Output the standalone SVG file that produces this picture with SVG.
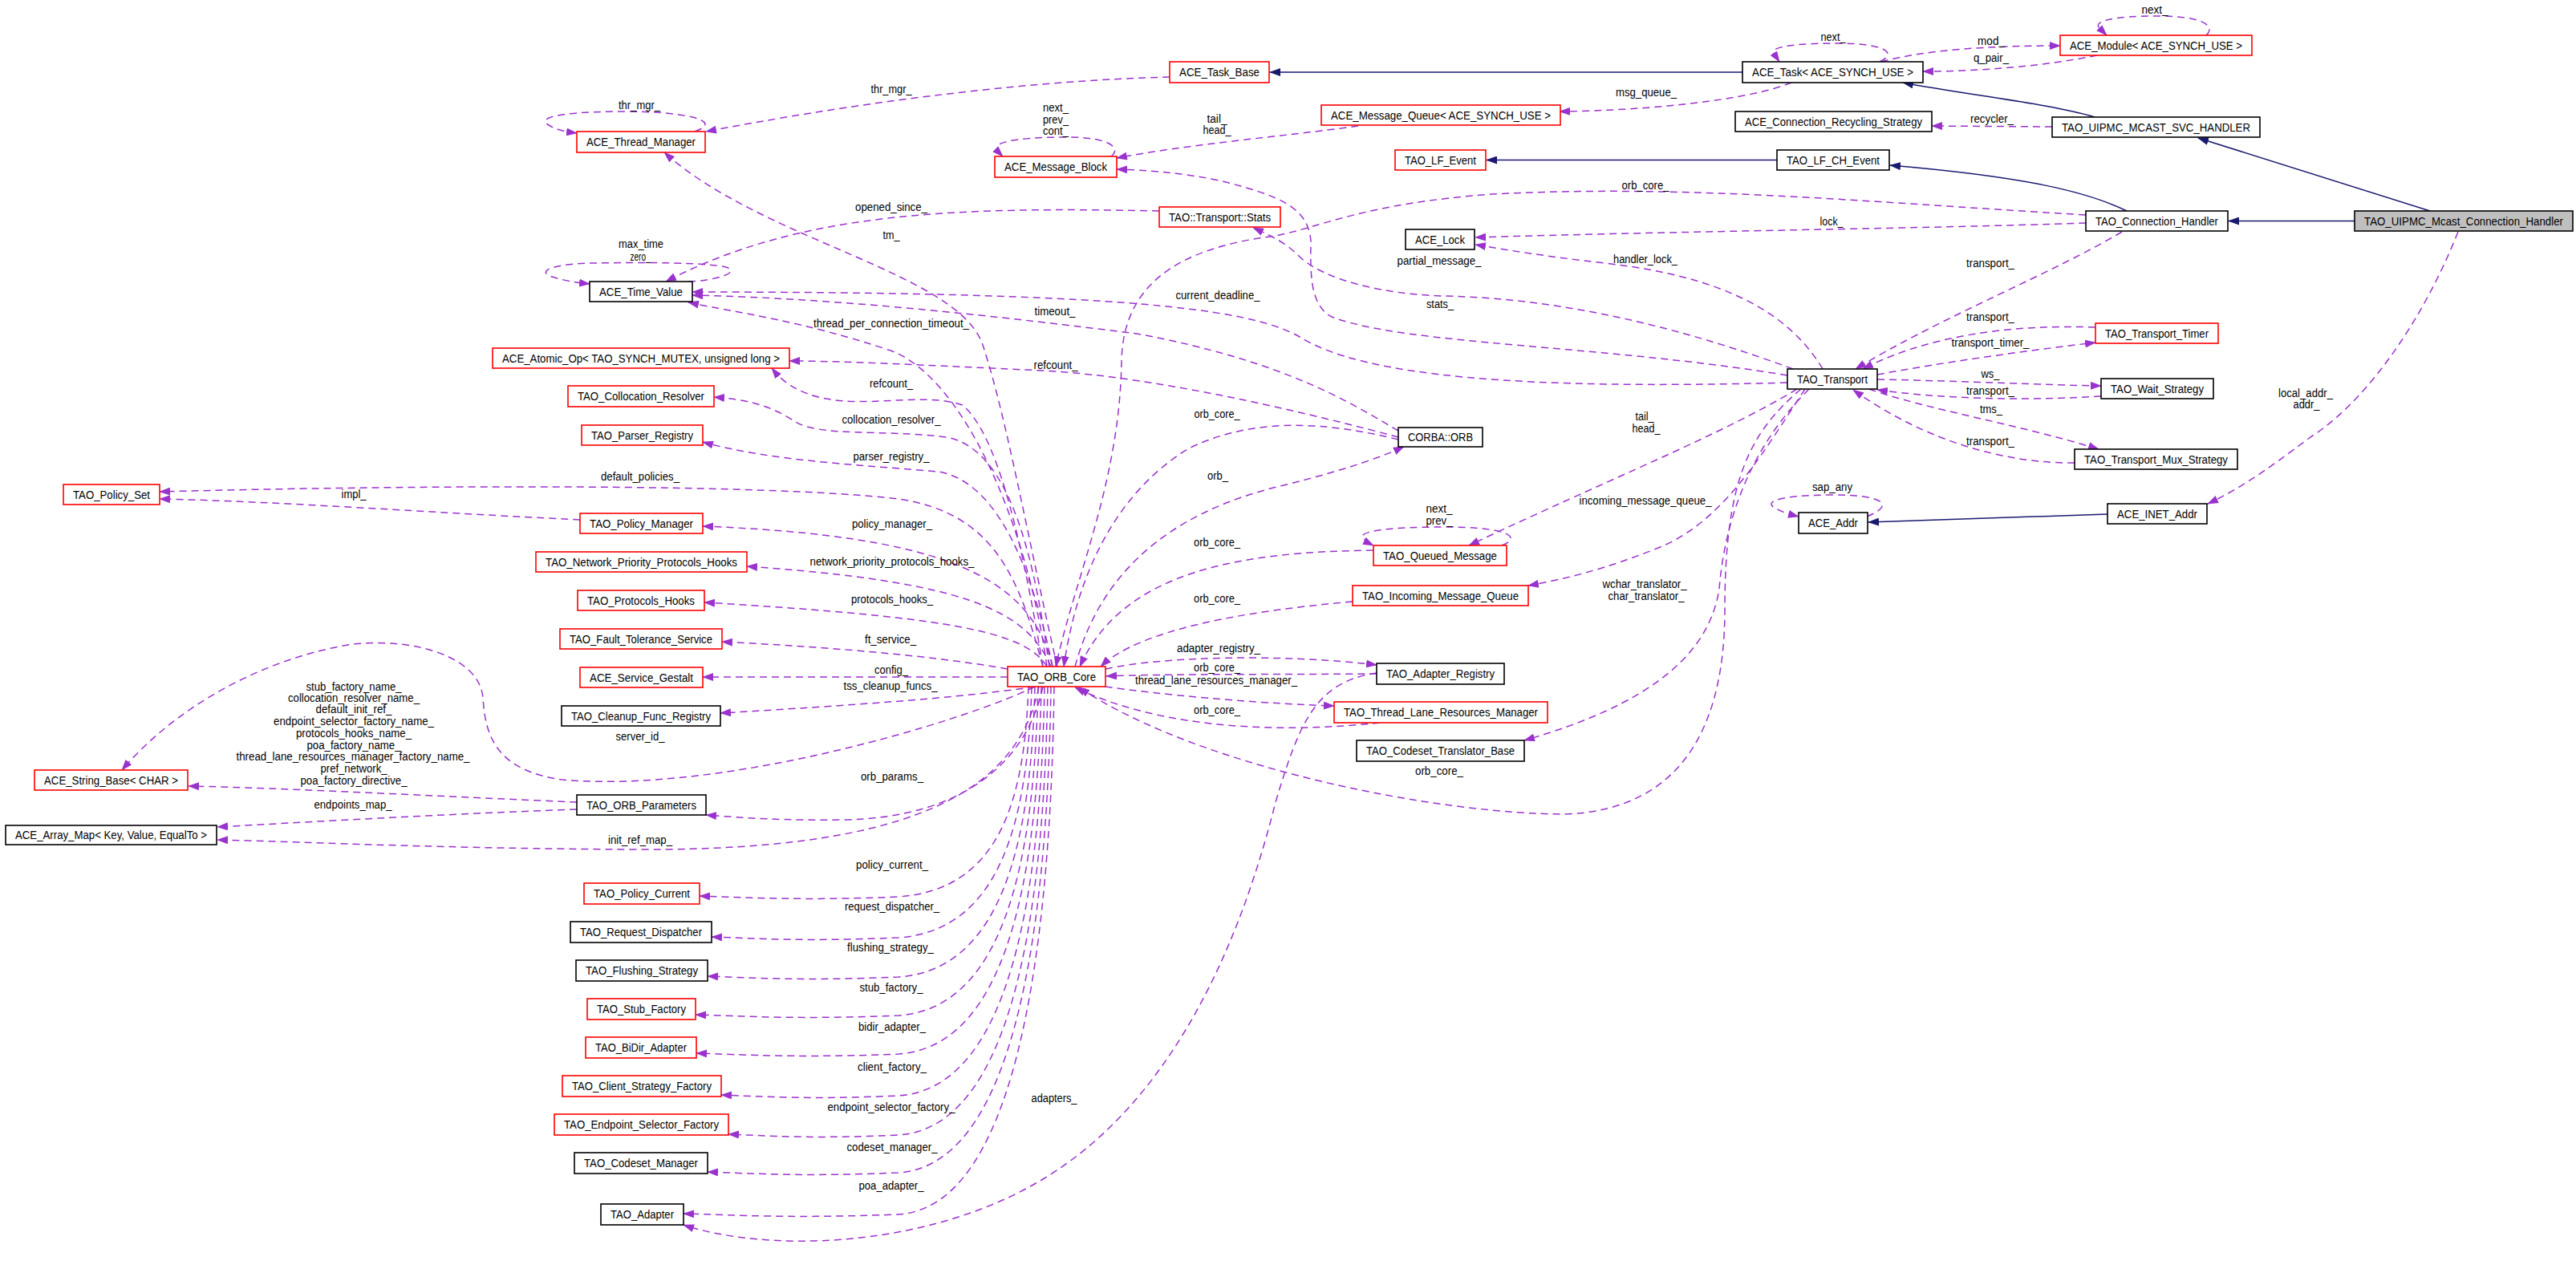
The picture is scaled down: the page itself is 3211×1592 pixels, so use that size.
<svg xmlns="http://www.w3.org/2000/svg" width="3211" height="1592" viewBox="0 0 3211 1592">
<style>
.n rect{fill:#fff;stroke:#000;stroke-width:1.6}
.n.r rect{stroke:#ff0000}
.n.g rect{fill:#bfbfbf}
text{font-family:"Liberation Sans",Arial,sans-serif;font-size:14px;fill:#000;text-anchor:middle}
.e{fill:none;stroke:#9a32cd;stroke-width:1.5;stroke-dasharray:9,6;marker-end:url(#ap)}
.i{fill:none;stroke:#191970;stroke-width:1.5;marker-end:url(#an)}
</style>
<defs>
<marker id="ap" viewBox="0 0 14 10" refX="13" refY="5" markerWidth="14" markerHeight="10" markerUnits="userSpaceOnUse" orient="auto"><path d="M0,0L14,5L0,10z" fill="#9a32cd"/></marker>
<marker id="an" viewBox="0 0 14 10" refX="13" refY="5" markerWidth="14" markerHeight="10" markerUnits="userSpaceOnUse" orient="auto"><path d="M0,0L14,5L0,10z" fill="#191970"/></marker>
</defs>
<rect width="3211" height="1592" fill="#fff"/>
<g id="connectors">
<path class="i" d="M2172,90 L1583,90"/>
<path class="i" d="M2215,199.5 L1853,199.5"/>
<path class="i" d="M2611,146 C2560,130 2450,118 2372,103"/>
<path class="i" d="M2651,263 C2600,238 2520,220 2356,206"/>
<path class="i" d="M3029,263 L2740,172"/>
<path class="i" d="M2935,275.5 L2778,275.5"/>
<path class="i" d="M2627,641 C2520,644 2420,648 2329,651"/>

<path class="e" d="M866,164 C905,150 850,139 780,139 C700,139 668,146 684,156 C692,161 702,164 719,166"/>
<path class="e" d="M858,351 C890,350 925,340 905,333 C880,327 800,327 740,328 C688,329 668,338 688,345 C700,349 716,352 735,354"/>
<path class="e" d="M1385,195 C1398,185 1385,171 1330,171 C1268,171 1238,177 1243,186 C1245,190 1247,192 1250,195"/>
<path class="e" d="M2343,77 C2366,66 2350,54 2290,54 C2225,54 2203,60 2212,69 C2214,72 2216,74 2218,77"/>
<path class="e" d="M2750,44 C2763,32 2745,20 2690,20 C2635,20 2608,26 2617,35 C2620,38 2623,41 2626,44"/>
<path class="e" d="M1872,680 C1896,671 1885,657 1800,657 C1718,657 1690,664 1700,672 C1704,675 1708,678 1712,680"/>
<path class="e" d="M2327,644 C2362,630 2350,617 2285,617 C2220,617 2198,625 2212,633 C2220,638 2230,641 2242,644"/>

<path class="e" d="M1458,96 C1300,100 1100,122 880,164"/>
<path class="e" d="M1318,831 C1285,690 1255,520 1225,430 C1195,340 950,300 828,190"/>
<path class="e" d="M1445,263 C1200,258 1000,262 830,351"/>
<path class="e" d="M2228,477 C1900,486 1700,470 1620,420 C1560,385 1400,364 863,364"/>
<path class="e" d="M1743,537 C1680,500 1600,450 1417,416 C1250,395 1050,372 863,368"/>
<path class="e" d="M1305,831 C1280,650 1200,470 1110,437 C1000,400 920,390 858,377"/>
<path class="e" d="M1743,545 C1650,520 1450,470 1300,462 C1150,455 1050,450 984,450"/>
<path class="e" d="M1300,831 C1270,650 1240,540 1200,505 C1150,488 1080,510 1020,495 C990,487 975,475 962,459"/>
<path class="e" d="M1308,831 C1290,700 1260,560 1180,545 C1100,535 1020,545 990,525 C960,505 930,498 890,495"/>
<path class="e" d="M1312,831 C1285,700 1240,600 1170,588 C1080,580 960,575 876,551"/>
<path class="e" d="M1300,831 C1270,720 1240,640 1120,622 C950,602 500,605 199,613"/>
<path class="e" d="M723,648 C550,640 350,625 199,622"/>
<path class="e" d="M1312,831 C1285,720 1180,668 876,656"/>
<path class="e" d="M1310,831 C1280,760 1200,725 931,706"/>
<path class="e" d="M1305,831 C1280,790 1200,770 878,751"/>
<path class="e" d="M1256,834 C1150,815 1000,805 900,800"/>
<path class="e" d="M1256,844 L876,844"/>
<path class="e" d="M1290,856 C1200,870 1050,880 898,889"/>
<path class="e" d="M1290,856 C1200,900 900,990 700,972 C620,960 605,920 602,870 C598,820 520,795 440,803 C330,820 220,880 152,960"/>
<path class="e" d="M719,1000 C550,993 350,982 235,980"/>
<path class="e" d="M719,1009 C550,1015 380,1025 271,1031"/>
<path class="e" d="M1295,856 C1270,980 1150,1060 800,1059 C550,1058 400,1050 271,1047"/>
<path class="e" d="M1300,856 C1280,950 1200,1020 1050,1022 C980,1023 930,1020 880,1016"/>
<path class="e" d="M1282,856 C1277,1000 1245,1109 1120,1118 C1000,1123 940,1119 872,1117"/>
<path class="e" d="M1286,856 C1281,1028 1245,1160 1120,1169 C1000,1174 950,1170 887,1168"/>
<path class="e" d="M1290,856 C1285,1055 1247,1209 1120,1218 C1000,1223 940,1219 882,1217"/>
<path class="e" d="M1294,856 C1289,1081 1249,1257 1120,1266 C1000,1271 930,1267 867,1265"/>
<path class="e" d="M1298,856 C1293,1107 1251,1305 1120,1314 C1000,1319 930,1315 868,1313"/>
<path class="e" d="M1302,856 C1297,1136 1253,1357 1120,1366 C1010,1371 950,1367 899,1365"/>
<path class="e" d="M1306,856 C1301,1163 1255,1406 1120,1415 C1010,1420 960,1416 908,1414"/>
<path class="e" d="M1310,856 C1305,1189 1257,1453 1120,1462 C1000,1467 940,1463 882,1461"/>
<path class="e" d="M1314,856 C1309,1217 1259,1505 1120,1514 C990,1519 920,1515 852,1513"/>
<path class="e" d="M1716,839 C1640,850 1620,900 1590,1000 C1540,1200 1450,1380 1300,1470 C1150,1560 950,1560 852,1527"/>
<path class="e" d="M1340,831 C1370,720 1450,640 1600,605 C1660,590 1710,575 1750,557"/>
<path class="e" d="M1743,548 C1650,525 1560,520 1480,560 C1400,610 1345,700 1326,831"/>
<path class="e" d="M2600,268 C2300,250 2100,230 1860,242 C1700,254 1650,282 1590,294 C1460,310 1400,360 1398,450 C1396,600 1340,720 1316,831"/>
<path class="e" d="M1712,686 C1550,688 1400,710 1346,831"/>
<path class="e" d="M1686,750 C1550,762 1420,785 1372,831"/>
<path class="e" d="M1378,834 C1450,818 1600,815 1716,829"/>
<path class="e" d="M1716,840 C1600,841 1450,840 1379,843"/>
<path class="e" d="M1378,856 C1450,866 1550,876 1663,880"/>
<path class="e" d="M1720,901 C1600,914 1450,910 1340,857"/>
<path class="e" d="M2245,485 C2180,540 2150,600 2150,760 C2150,900 2100,1010 1950,1015 C1800,1015 1500,960 1345,857"/>
<path class="e" d="M2240,485 C2150,540 2000,600 1831,680"/>
<path class="e" d="M2250,485 C2200,560 2150,650 2067,683 C2000,710 1950,722 1905,730"/>
<path class="e" d="M2255,485 C2180,560 2150,650 2143,734 C2130,820 2050,880 1900,923"/>
<path class="e" d="M2235,460 C2100,410 1950,372 1800,369 C1700,366 1640,340 1620,320 C1600,300 1580,292 1562,284"/>
<path class="e" d="M2228,468 C2000,430 1750,430 1660,395 C1630,380 1634,330 1634,300 C1630,260 1600,245 1520,225 C1470,215 1430,212 1392,211"/>
<path class="e" d="M2272,460 C2230,390 2150,345 2000,328 C1930,320 1880,312 1839,305"/>
<path class="e" d="M2600,278 C2400,285 2100,288 1839,296"/>
<path class="e" d="M2645,289 C2560,340 2420,395 2313,460"/>
<path class="e" d="M2612,408 C2500,404 2400,420 2322,460"/>
<path class="e" d="M2340,467 C2420,452 2520,438 2612,427"/>
<path class="e" d="M2340,473 C2450,475 2550,480 2619,481"/>
<path class="e" d="M2619,494 C2520,500 2420,497 2340,486"/>
<path class="e" d="M2330,485 C2400,510 2520,530 2616,560"/>
<path class="e" d="M2586,577 C2500,578 2400,550 2310,486"/>
<path class="e" d="M2614,69 C2550,82 2470,89 2397,89"/>
<path class="e" d="M2345,77 C2400,62 2480,57 2568,57"/>
<path class="e" d="M2233,103 C2180,125 2050,138 1944,139"/>
<path class="e" d="M1693,157 C1600,170 1480,180 1392,197"/>
<path class="e" d="M2558,158 L2408,157"/>
<path class="e" d="M3064,289 C3020,400 2950,500 2880,545 C2820,590 2790,610 2752,628"/>

<text x="797" y="136" textLength="52" lengthAdjust="spacingAndGlyphs">thr_mgr_</text>
<text x="1111" y="116" textLength="51" lengthAdjust="spacingAndGlyphs">thr_mgr_</text>
<text x="799" y="309" textLength="56" lengthAdjust="spacingAndGlyphs">max_time</text>
<text x="798" y="324.5" textLength="25" lengthAdjust="spacingAndGlyphs">zero_</text>
<text x="1316" y="139" textLength="32" lengthAdjust="spacingAndGlyphs">next_</text>
<text x="1316" y="153.5" textLength="32" lengthAdjust="spacingAndGlyphs">prev_</text>
<text x="1316" y="168" textLength="32" lengthAdjust="spacingAndGlyphs">cont_</text>
<text x="1517" y="152.5" textLength="25" lengthAdjust="spacingAndGlyphs">tail_</text>
<text x="1517" y="167" textLength="35" lengthAdjust="spacingAndGlyphs">head_</text>
<text x="1111" y="263" textLength="90" lengthAdjust="spacingAndGlyphs">opened_since_</text>
<text x="1111" y="297.5" textLength="21" lengthAdjust="spacingAndGlyphs">tm_</text>
<text x="1518" y="373" textLength="105" lengthAdjust="spacingAndGlyphs">current_deadline_</text>
<text x="1315" y="393" textLength="51" lengthAdjust="spacingAndGlyphs">timeout_</text>
<text x="1111" y="408" textLength="194" lengthAdjust="spacingAndGlyphs">thread_per_connection_timeout_</text>
<text x="1316" y="460" textLength="55" lengthAdjust="spacingAndGlyphs">refcount_</text>
<text x="1111" y="483" textLength="54" lengthAdjust="spacingAndGlyphs">refcount_</text>
<text x="1111" y="528" textLength="123" lengthAdjust="spacingAndGlyphs">collocation_resolver_</text>
<text x="1517" y="521" textLength="57" lengthAdjust="spacingAndGlyphs">orb_core_</text>
<text x="2052" y="120" textLength="76" lengthAdjust="spacingAndGlyphs">msg_queue_</text>
<text x="2285" y="51" textLength="31" lengthAdjust="spacingAndGlyphs">next_</text>
<text x="2051" y="235.5" textLength="59" lengthAdjust="spacingAndGlyphs">orb_core_</text>
<text x="2283" y="281" textLength="29" lengthAdjust="spacingAndGlyphs">lock_</text>
<text x="2051" y="328" textLength="80" lengthAdjust="spacingAndGlyphs">handler_lock_</text>
<text x="1794" y="329.5" textLength="105" lengthAdjust="spacingAndGlyphs">partial_message_</text>
<text x="1795" y="384" textLength="34" lengthAdjust="spacingAndGlyphs">stats_</text>
<text x="2050" y="523.5" textLength="23" lengthAdjust="spacingAndGlyphs">tail_</text>
<text x="2052" y="539" textLength="35" lengthAdjust="spacingAndGlyphs">head_</text>
<text x="2686" y="17" textLength="33" lengthAdjust="spacingAndGlyphs">next_</text>
<text x="2482" y="56" textLength="34" lengthAdjust="spacingAndGlyphs">mod_</text>
<text x="2482" y="77" textLength="44" lengthAdjust="spacingAndGlyphs">q_pair_</text>
<text x="2483" y="153" textLength="54" lengthAdjust="spacingAndGlyphs">recycler_</text>
<text x="2481" y="333" textLength="60" lengthAdjust="spacingAndGlyphs">transport_</text>
<text x="2481" y="400" textLength="60" lengthAdjust="spacingAndGlyphs">transport_</text>
<text x="2481" y="432" textLength="97" lengthAdjust="spacingAndGlyphs">transport_timer_</text>
<text x="2481" y="471" textLength="23" lengthAdjust="spacingAndGlyphs">ws_</text>
<text x="2481" y="492" textLength="60" lengthAdjust="spacingAndGlyphs">transport_</text>
<text x="2482" y="515" textLength="28" lengthAdjust="spacingAndGlyphs">tms_</text>
<text x="2481" y="555" textLength="60" lengthAdjust="spacingAndGlyphs">transport_</text>
<text x="2874" y="494.5" textLength="68" lengthAdjust="spacingAndGlyphs">local_addr_</text>
<text x="2875" y="509" textLength="33" lengthAdjust="spacingAndGlyphs">addr_</text>
<text x="441" y="621" textLength="31" lengthAdjust="spacingAndGlyphs">impl_</text>
<text x="798" y="599" textLength="98" lengthAdjust="spacingAndGlyphs">default_policies_</text>
<text x="798" y="922.5" textLength="61" lengthAdjust="spacingAndGlyphs">server_id_</text>
<text x="441" y="860.5" textLength="119" lengthAdjust="spacingAndGlyphs">stub_factory_name_</text>
<text x="441" y="875" textLength="164" lengthAdjust="spacingAndGlyphs">collocation_resolver_name_</text>
<text x="441" y="889" textLength="95" lengthAdjust="spacingAndGlyphs">default_init_ref_</text>
<text x="441" y="904" textLength="200" lengthAdjust="spacingAndGlyphs">endpoint_selector_factory_name_</text>
<text x="441" y="919" textLength="144" lengthAdjust="spacingAndGlyphs">protocols_hooks_name_</text>
<text x="441" y="933.5" textLength="117" lengthAdjust="spacingAndGlyphs">poa_factory_name_</text>
<text x="440" y="948" textLength="291" lengthAdjust="spacingAndGlyphs">thread_lane_resources_manager_factory_name_</text>
<text x="441" y="963" textLength="83" lengthAdjust="spacingAndGlyphs">pref_network_</text>
<text x="441" y="977.5" textLength="133" lengthAdjust="spacingAndGlyphs">poa_factory_directive_</text>
<text x="440" y="1008" textLength="97" lengthAdjust="spacingAndGlyphs">endpoints_map_</text>
<text x="798" y="1051.5" textLength="80" lengthAdjust="spacingAndGlyphs">init_ref_map_</text>
<text x="1111" y="573.5" textLength="95" lengthAdjust="spacingAndGlyphs">parser_registry_</text>
<text x="1112" y="657.5" textLength="100" lengthAdjust="spacingAndGlyphs">policy_manager_</text>
<text x="1112" y="705" textLength="205" lengthAdjust="spacingAndGlyphs">network_priority_protocols_hooks_</text>
<text x="1112" y="752" textLength="102" lengthAdjust="spacingAndGlyphs">protocols_hooks_</text>
<text x="1110" y="801.5" textLength="64" lengthAdjust="spacingAndGlyphs">ft_service_</text>
<text x="1111" y="839.5" textLength="42" lengthAdjust="spacingAndGlyphs">config_</text>
<text x="1110" y="859.5" textLength="117" lengthAdjust="spacingAndGlyphs">tss_cleanup_funcs_</text>
<text x="1112" y="972.5" textLength="78" lengthAdjust="spacingAndGlyphs">orb_params_</text>
<text x="1518" y="597.5" textLength="26" lengthAdjust="spacingAndGlyphs">orb_</text>
<text x="1517" y="680.5" textLength="58" lengthAdjust="spacingAndGlyphs">orb_core_</text>
<text x="1517" y="751" textLength="58" lengthAdjust="spacingAndGlyphs">orb_core_</text>
<text x="1519" y="813" textLength="104" lengthAdjust="spacingAndGlyphs">adapter_registry_</text>
<text x="1517" y="837" textLength="58" lengthAdjust="spacingAndGlyphs">orb_core_</text>
<text x="1516" y="853" textLength="202" lengthAdjust="spacingAndGlyphs">thread_lane_resources_manager_</text>
<text x="1517" y="889.5" textLength="58" lengthAdjust="spacingAndGlyphs">orb_core_</text>
<text x="1794" y="639" textLength="33" lengthAdjust="spacingAndGlyphs">next_</text>
<text x="1794" y="653.5" textLength="33" lengthAdjust="spacingAndGlyphs">prev_</text>
<text x="2051" y="629" textLength="165" lengthAdjust="spacingAndGlyphs">incoming_message_queue_</text>
<text x="2050" y="733" textLength="105" lengthAdjust="spacingAndGlyphs">wchar_translator_</text>
<text x="2052" y="748" textLength="95" lengthAdjust="spacingAndGlyphs">char_translator_</text>
<text x="2284" y="611.5" textLength="50" lengthAdjust="spacingAndGlyphs">sap_any</text>
<text x="1794" y="965.5" textLength="60" lengthAdjust="spacingAndGlyphs">orb_core_</text>
<text x="1112" y="1082.5" textLength="90" lengthAdjust="spacingAndGlyphs">policy_current_</text>
<text x="1112" y="1135" textLength="118" lengthAdjust="spacingAndGlyphs">request_dispatcher_</text>
<text x="1110" y="1185.5" textLength="108" lengthAdjust="spacingAndGlyphs">flushing_strategy_</text>
<text x="1111" y="1236" textLength="79" lengthAdjust="spacingAndGlyphs">stub_factory_</text>
<text x="1112" y="1285" textLength="84" lengthAdjust="spacingAndGlyphs">bidir_adapter_</text>
<text x="1112" y="1335" textLength="86" lengthAdjust="spacingAndGlyphs">client_factory_</text>
<text x="1111" y="1385" textLength="159" lengthAdjust="spacingAndGlyphs">endpoint_selector_factory_</text>
<text x="1112" y="1435" textLength="113" lengthAdjust="spacingAndGlyphs">codeset_manager_</text>
<text x="1111" y="1483" textLength="81" lengthAdjust="spacingAndGlyphs">poa_adapter_</text>
<text x="1314" y="1373.5" textLength="57" lengthAdjust="spacingAndGlyphs">adapters_</text>
</g>

<g id="ACE_Thread_Manager" class="n r"><rect x="719" y="164" width="160" height="26"/><text x="799" y="182" textLength="136" lengthAdjust="spacingAndGlyphs">ACE_Thread_Manager</text></g>
<g id="ACE_Task_Base" class="n r"><rect x="1458" y="77" width="124" height="26"/><text x="1520" y="95" textLength="100" lengthAdjust="spacingAndGlyphs">ACE_Task_Base</text></g>
<g id="ACE_Task" class="n"><rect x="2172" y="77" width="225" height="26"/><text x="2284.5" y="95" textLength="201" lengthAdjust="spacingAndGlyphs">ACE_Task&lt; ACE_SYNCH_USE &gt;</text></g>
<g id="ACE_Module" class="n r"><rect x="2568" y="44" width="239" height="25"/><text x="2687.5" y="61.5" textLength="215" lengthAdjust="spacingAndGlyphs">ACE_Module&lt; ACE_SYNCH_USE &gt;</text></g>
<g id="ACE_Message_Queue" class="n r"><rect x="1647" y="131" width="298" height="25"/><text x="1796" y="148.5" textLength="274" lengthAdjust="spacingAndGlyphs">ACE_Message_Queue&lt; ACE_SYNCH_USE &gt;</text></g>
<g id="ACE_Message_Block" class="n r"><rect x="1240" y="195" width="152" height="26"/><text x="1316" y="213" textLength="128" lengthAdjust="spacingAndGlyphs">ACE_Message_Block</text></g>
<g id="ACE_Connection_Recycling_Strategy" class="n"><rect x="2163" y="139" width="245" height="25"/><text x="2285.5" y="156.5" textLength="221" lengthAdjust="spacingAndGlyphs">ACE_Connection_Recycling_Strategy</text></g>
<g id="TAO_UIPMC_MCAST_SVC_HANDLER" class="n"><rect x="2558" y="146" width="259" height="25"/><text x="2687.5" y="163.5" textLength="235" lengthAdjust="spacingAndGlyphs">TAO_UIPMC_MCAST_SVC_HANDLER</text></g>
<g id="TAO_LF_Event" class="n r"><rect x="1739" y="187" width="113" height="25"/><text x="1795.5" y="204.5" textLength="89" lengthAdjust="spacingAndGlyphs">TAO_LF_Event</text></g>
<g id="TAO_LF_CH_Event" class="n"><rect x="2215" y="187" width="140" height="25"/><text x="2285" y="204.5" textLength="116" lengthAdjust="spacingAndGlyphs">TAO_LF_CH_Event</text></g>
<g id="TAO_Transport_Stats" class="n r"><rect x="1445" y="258" width="151" height="25"/><text x="1520.5" y="275.5" textLength="127" lengthAdjust="spacingAndGlyphs">TAO::Transport::Stats</text></g>
<g id="TAO_Connection_Handler" class="n"><rect x="2600" y="263" width="177" height="25"/><text x="2688.5" y="280.5" textLength="153" lengthAdjust="spacingAndGlyphs">TAO_Connection_Handler</text></g>
<g id="TAO_UIPMC_Mcast_Connection_Handler" class="n g"><rect x="2935" y="263" width="272" height="25"/><text x="3071" y="280.5" textLength="248" lengthAdjust="spacingAndGlyphs">TAO_UIPMC_Mcast_Connection_Handler</text></g>
<g id="ACE_Lock" class="n"><rect x="1752" y="286" width="86" height="25"/><text x="1795" y="303.5" textLength="62" lengthAdjust="spacingAndGlyphs">ACE_Lock</text></g>
<g id="ACE_Time_Value" class="n"><rect x="735" y="351" width="128" height="25"/><text x="799" y="368.5" textLength="104" lengthAdjust="spacingAndGlyphs">ACE_Time_Value</text></g>
<g id="TAO_Transport_Timer" class="n r"><rect x="2612" y="403" width="153" height="25"/><text x="2688.5" y="420.5" textLength="129" lengthAdjust="spacingAndGlyphs">TAO_Transport_Timer</text></g>
<g id="ACE_Atomic_Op" class="n r"><rect x="614" y="434" width="370" height="25"/><text x="799" y="451.5" textLength="346" lengthAdjust="spacingAndGlyphs">ACE_Atomic_Op&lt; TAO_SYNCH_MUTEX, unsigned long &gt;</text></g>
<g id="TAO_Transport" class="n"><rect x="2228" y="460" width="112" height="25"/><text x="2284" y="477.5" textLength="88" lengthAdjust="spacingAndGlyphs">TAO_Transport</text></g>
<g id="TAO_Wait_Strategy" class="n"><rect x="2619" y="472" width="140" height="25"/><text x="2689" y="489.5" textLength="116" lengthAdjust="spacingAndGlyphs">TAO_Wait_Strategy</text></g>
<g id="TAO_Collocation_Resolver" class="n r"><rect x="708" y="481" width="182" height="26"/><text x="799" y="499" textLength="158" lengthAdjust="spacingAndGlyphs">TAO_Collocation_Resolver</text></g>
<g id="TAO_Parser_Registry" class="n r"><rect x="725" y="530" width="151" height="25"/><text x="800.5" y="547.5" textLength="127" lengthAdjust="spacingAndGlyphs">TAO_Parser_Registry</text></g>
<g id="CORBA_ORB" class="n"><rect x="1743" y="533" width="105" height="24"/><text x="1795.5" y="550" textLength="81" lengthAdjust="spacingAndGlyphs">CORBA::ORB</text></g>
<g id="TAO_Transport_Mux_Strategy" class="n"><rect x="2586" y="560" width="203" height="25"/><text x="2687.5" y="577.5" textLength="179" lengthAdjust="spacingAndGlyphs">TAO_Transport_Mux_Strategy</text></g>
<g id="TAO_Policy_Set" class="n r"><rect x="79" y="604" width="120" height="25"/><text x="139" y="621.5" textLength="96" lengthAdjust="spacingAndGlyphs">TAO_Policy_Set</text></g>
<g id="ACE_INET_Addr" class="n"><rect x="2627" y="628" width="124" height="25"/><text x="2689" y="645.5" textLength="100" lengthAdjust="spacingAndGlyphs">ACE_INET_Addr</text></g>
<g id="ACE_Addr" class="n"><rect x="2242" y="639" width="86" height="26"/><text x="2285" y="657" textLength="62" lengthAdjust="spacingAndGlyphs">ACE_Addr</text></g>
<g id="TAO_Policy_Manager" class="n r"><rect x="723" y="640" width="153" height="25"/><text x="799.5" y="657.5" textLength="129" lengthAdjust="spacingAndGlyphs">TAO_Policy_Manager</text></g>
<g id="TAO_Queued_Message" class="n r"><rect x="1712" y="680" width="166" height="25"/><text x="1795" y="697.5" textLength="142" lengthAdjust="spacingAndGlyphs">TAO_Queued_Message</text></g>
<g id="TAO_Network_Priority_Protocols_Hooks" class="n r"><rect x="668" y="688" width="263" height="25"/><text x="799.5" y="705.5" textLength="239" lengthAdjust="spacingAndGlyphs">TAO_Network_Priority_Protocols_Hooks</text></g>
<g id="TAO_Incoming_Message_Queue" class="n r"><rect x="1686" y="730" width="219" height="25"/><text x="1795.5" y="747.5" textLength="195" lengthAdjust="spacingAndGlyphs">TAO_Incoming_Message_Queue</text></g>
<g id="TAO_Protocols_Hooks" class="n r"><rect x="720" y="736" width="158" height="25"/><text x="799" y="753.5" textLength="134" lengthAdjust="spacingAndGlyphs">TAO_Protocols_Hooks</text></g>
<g id="TAO_Fault_Tolerance_Service" class="n r"><rect x="698" y="784" width="202" height="25"/><text x="799" y="801.5" textLength="178" lengthAdjust="spacingAndGlyphs">TAO_Fault_Tolerance_Service</text></g>
<g id="TAO_Adapter_Registry" class="n"><rect x="1716" y="827" width="159" height="26"/><text x="1795.5" y="845" textLength="135" lengthAdjust="spacingAndGlyphs">TAO_Adapter_Registry</text></g>
<g id="TAO_ORB_Core" class="n r"><rect x="1256" y="831" width="122" height="25"/><text x="1317" y="848.5" textLength="98" lengthAdjust="spacingAndGlyphs">TAO_ORB_Core</text></g>
<g id="ACE_Service_Gestalt" class="n r"><rect x="723" y="832" width="153" height="25"/><text x="799.5" y="849.5" textLength="129" lengthAdjust="spacingAndGlyphs">ACE_Service_Gestalt</text></g>
<g id="TAO_Thread_Lane_Resources_Manager" class="n r"><rect x="1663" y="875" width="266" height="26"/><text x="1796" y="893" textLength="242" lengthAdjust="spacingAndGlyphs">TAO_Thread_Lane_Resources_Manager</text></g>
<g id="TAO_Cleanup_Func_Registry" class="n"><rect x="700" y="880" width="198" height="25"/><text x="799" y="897.5" textLength="174" lengthAdjust="spacingAndGlyphs">TAO_Cleanup_Func_Registry</text></g>
<g id="TAO_Codeset_Translator_Base" class="n"><rect x="1691" y="923" width="209" height="26"/><text x="1795.5" y="941" textLength="185" lengthAdjust="spacingAndGlyphs">TAO_Codeset_Translator_Base</text></g>
<g id="ACE_String_Base" class="n r"><rect x="43" y="960" width="191" height="25"/><text x="138.5" y="977.5" textLength="167" lengthAdjust="spacingAndGlyphs">ACE_String_Base&lt; CHAR &gt;</text></g>
<g id="TAO_ORB_Parameters" class="n"><rect x="719" y="991" width="161" height="25"/><text x="799.5" y="1008.5" textLength="137" lengthAdjust="spacingAndGlyphs">TAO_ORB_Parameters</text></g>
<g id="ACE_Array_Map" class="n"><rect x="7" y="1029" width="263" height="24"/><text x="138.5" y="1046" textLength="239" lengthAdjust="spacingAndGlyphs">ACE_Array_Map&lt; Key, Value, EqualTo &gt;</text></g>
<g id="TAO_Policy_Current" class="n r"><rect x="728" y="1101" width="144" height="26"/><text x="800" y="1119" textLength="120" lengthAdjust="spacingAndGlyphs">TAO_Policy_Current</text></g>
<g id="TAO_Request_Dispatcher" class="n"><rect x="711" y="1149" width="176" height="26"/><text x="799" y="1167" textLength="152" lengthAdjust="spacingAndGlyphs">TAO_Request_Dispatcher</text></g>
<g id="TAO_Flushing_Strategy" class="n"><rect x="718" y="1197" width="164" height="26"/><text x="800" y="1215" textLength="140" lengthAdjust="spacingAndGlyphs">TAO_Flushing_Strategy</text></g>
<g id="TAO_Stub_Factory" class="n r"><rect x="732" y="1245" width="135" height="26"/><text x="799.5" y="1263" textLength="111" lengthAdjust="spacingAndGlyphs">TAO_Stub_Factory</text></g>
<g id="TAO_BiDir_Adapter" class="n r"><rect x="730" y="1293" width="138" height="26"/><text x="799" y="1311" textLength="114" lengthAdjust="spacingAndGlyphs">TAO_BiDir_Adapter</text></g>
<g id="TAO_Client_Strategy_Factory" class="n r"><rect x="701" y="1341" width="198" height="26"/><text x="800" y="1359" textLength="174" lengthAdjust="spacingAndGlyphs">TAO_Client_Strategy_Factory</text></g>
<g id="TAO_Endpoint_Selector_Factory" class="n r"><rect x="691" y="1389" width="217" height="26"/><text x="799.5" y="1407" textLength="193" lengthAdjust="spacingAndGlyphs">TAO_Endpoint_Selector_Factory</text></g>
<g id="TAO_Codeset_Manager" class="n"><rect x="716" y="1437" width="166" height="26"/><text x="799" y="1455" textLength="142" lengthAdjust="spacingAndGlyphs">TAO_Codeset_Manager</text></g>
<g id="TAO_Adapter" class="n"><rect x="749" y="1501" width="103" height="26"/><text x="800.5" y="1519" textLength="79" lengthAdjust="spacingAndGlyphs">TAO_Adapter</text></g>
</svg>
